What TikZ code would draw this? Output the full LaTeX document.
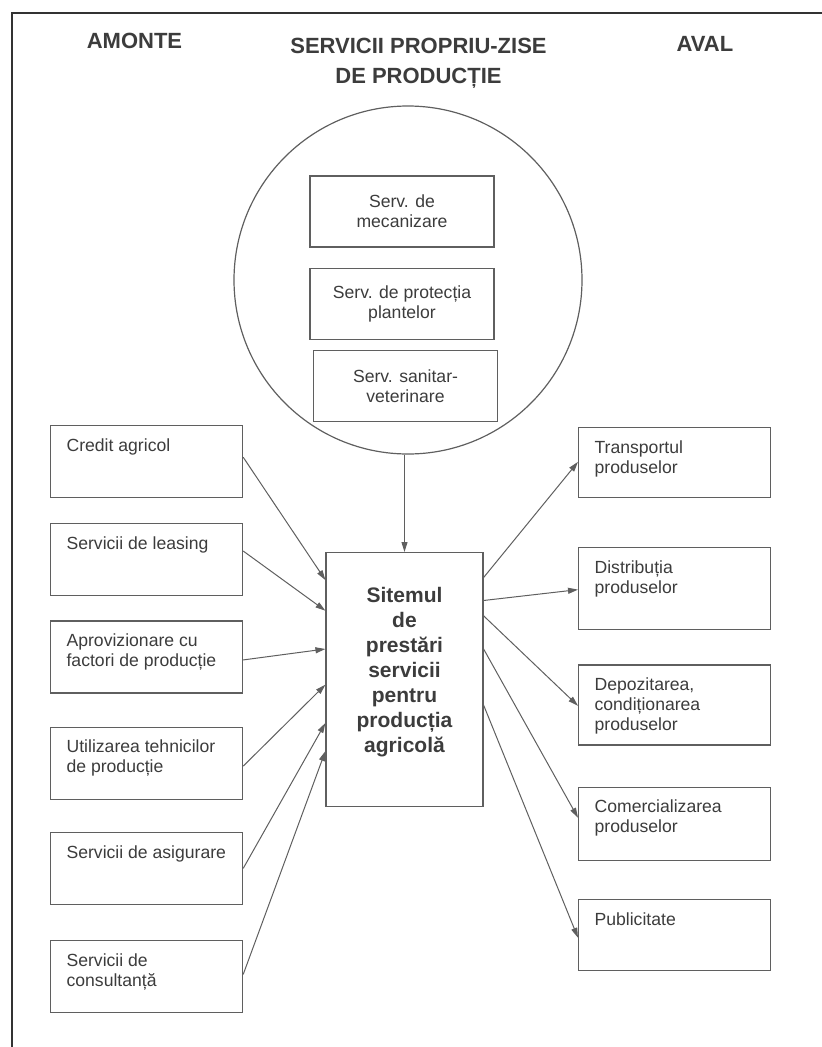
\documentclass[tikz,border=0pt]{standalone}
\usepackage{fontspec}
\setmainfont{Liberation Sans}
\usetikzlibrary{arrows.meta, positioning, calc}
\definecolor{linegray}{RGB}{95,95,95}
\definecolor{textgray}{RGB}{60,60,60}
\newcommand{\boxtxt}[2]{\parbox[t][#1][t]{192pt}{\raggedright\leftskip=16pt\relax #2}}
\tikzset{
  basebox/.style={rectangle, draw=linegray, line width=1.2pt, text=textgray,
    font=\fontsize{17.6}{20}\selectfont},
  sidebox/.style={basebox, inner xsep=0pt, inner ysep=13pt},
  servbox/.style={basebox, minimum width=184pt, minimum height=71pt, align=center, inner sep=0pt},
  sistembox/.style={basebox, inner xsep=0pt, inner ysep=35pt, font=\fontsize{21}{25}\selectfont\bfseries},
  headtext/.style={inner sep=0pt, text=textgray, align=center, font=\fontsize{22}{30}\selectfont\bfseries},
  arrow/.style={-{Triangle[length=10pt, width=6pt]}, line width=1pt, color=linegray}
}

\begin{document}
\begin{tikzpicture}[x=1pt, y=-1pt]
  \useasboundingbox (0,0) rectangle (822,1047);
  \draw[line width=1.8pt, color=black!80] (12,1047) -- (12,13) -- (822,13);

  % titles
  \node[headtext, anchor=north] (amonte) at (134.5,33) {AMONTE};
  \node[headtext, anchor=north] (propriu) at (418.5,38) {SERVICII PROPRIU-ZISE\\DE PRODUCȚIE};
  \node[headtext, anchor=north] (aval) at (705,36) {AVAL};

  % services proper, inside the circle
  \node[circle, draw=linegray, line width=1.2pt, minimum size=348pt, inner sep=0pt] (cerc) at (408,280) {};
  \node[servbox] (mecaniz) at (402,211.5) {Serv. de\\mecanizare};
  \node[servbox, below=20pt of mecaniz] (protectie) {Serv. de protecția\\plantelor};
  \node[servbox, below=10pt of protectie, xshift=3.5pt] (sanitar) {Serv. sanitar-\\veterinare};

  % amonte
  \node[sidebox, anchor=north west] (credit) at (50,425) {\boxtxt{46pt}{Credit agricol}};
  \node[sidebox, below=25pt of credit] (leasing) {\boxtxt{46pt}{Servicii de leasing}};
  \node[sidebox, below=24pt of leasing] (aprov) {\boxtxt{46pt}{Aprovizionare cu\\factori de producție}};
  \node[sidebox, below=33pt of aprov] (tehnici) {\boxtxt{46pt}{Utilizarea tehnicilor\\de producție}};
  \node[sidebox, below=32pt of tehnici] (asigurare) {\boxtxt{46pt}{Servicii de asigurare}};
  \node[sidebox, below=35pt of asigurare] (consult) {\boxtxt{46pt}{Servicii de\\consultanță}};

  % central system
  \node[sistembox, anchor=north] (sistem) at (404.5,552)
        {\parbox[t][184pt][t]{157pt}{\centering Sitemul\\de\\prestări\\servicii\\pentru\\producția\\agricolă}};

  % aval
  \node[sidebox, anchor=north west] (transport) at (578,427) {\boxtxt{44pt}{Transportul\\produselor}};
  \node[sidebox, below=49pt of transport] (distrib) {\boxtxt{56pt}{Distribuția\\produselor}};
  \node[sidebox, below=34pt of distrib] (depozit) {\boxtxt{54pt}{Depozitarea,\\condiționarea\\produselor}};
  \node[sidebox, below=41pt of depozit] (comert) {\boxtxt{47pt}{Comercializarea\\produselor}};
  \node[sidebox, below=38pt of comert] (public) {\boxtxt{45pt}{Publicitate}};

  % connectors
  \draw[arrow] (cerc.south -| sistem.north) -- (sistem.north);
  \draw[arrow] ($(credit.north east)!0.44!(credit.south east)$) -- ($(sistem.north west)!0.11!(sistem.south west)$);
  \draw[arrow] ($(leasing.north east)!0.38!(leasing.south east)$) -- ($(sistem.north west)!0.23!(sistem.south west)$);
  \draw[arrow] ($(aprov.north east)!0.54!(aprov.south east)$) -- ($(sistem.north west)!0.38!(sistem.south west)$);
  \draw[arrow] ($(tehnici.north east)!0.54!(tehnici.south east)$) -- ($(sistem.north west)!0.52!(sistem.south west)$);
  \draw[arrow] ($(asigurare.north east)!0.5!(asigurare.south east)$) -- ($(sistem.north west)!0.67!(sistem.south west)$);
  \draw[arrow] ($(consult.north east)!0.47!(consult.south east)$) -- ($(sistem.north west)!0.78!(sistem.south west)$);

  \draw[arrow] ($(sistem.north east)!0.10!(sistem.south east)$) -- ($(transport.north west)!0.49!(transport.south west)$);
  \draw[arrow] ($(sistem.north east)!0.19!(sistem.south east)$) -- ($(distrib.north west)!0.51!(distrib.south west)$);
  \draw[arrow] ($(sistem.north east)!0.25!(sistem.south east)$) -- ($(depozit.north west)!0.51!(depozit.south west)$);
  \draw[arrow] ($(sistem.north east)!0.38!(sistem.south east)$) -- ($(comert.north west)!0.42!(comert.south west)$);
  \draw[arrow] ($(sistem.north east)!0.60!(sistem.south east)$) -- ($(public.north west)!0.54!(public.south west)$);
\end{tikzpicture}
\end{document}
